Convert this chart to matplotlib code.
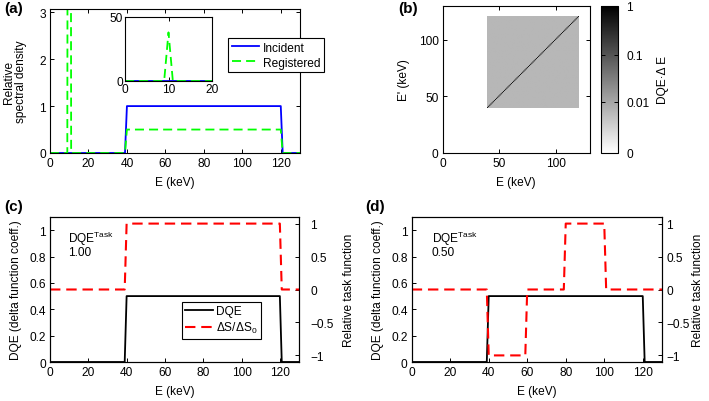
import numpy as np
import matplotlib
matplotlib.use("Agg")
import matplotlib.pyplot as plt
from matplotlib.colors import FuncNorm

plt.rcParams["font.family"] = ["Liberation Sans", "DejaVu Sans"]
plt.rcParams["mathtext.fontset"] = "custom"
plt.rcParams["mathtext.rm"] = "Liberation Sans"
plt.rcParams["mathtext.it"] = "Liberation Sans:italic"
plt.rcParams["font.size"] = 8.6
plt.rcParams["axes.linewidth"] = 0.8

# ---- data ----
# (a) spectra
inc_E = [0, 39, 40, 120, 121, 130]
inc_y = [0, 0, 1, 1, 0, 0]
reg_E = [0, 9, 10, 11, 39, 40, 120, 121, 130]
reg_y = [0, 0, 38, 0, 0, 0.5, 0.5, 0, 0]

# (b) DQE matrix: square 40..120 keV, off-diagonal level and diagonal level
map_lo, map_hi = 40, 120
map_off = 0.006
map_diag = 0.5
cbar_ticks = [0, 0.01, 0.1, 1]
cbar_labels = ["0", "0.01", "0.1", "1"]

# (c)/(d) DQE and task functions
dqe_E = [0, 39, 40, 120, 121, 130]
dqe_y = [0, 0, 0.5, 0.5, 0, 0]
task_c_E = [0, 39, 40, 120, 121, 130]
task_c_y = [0, 0, 1, 1, 0, 0]
task_d_E = [0, 39, 40, 59, 60, 79, 80, 100, 101, 130]
task_d_y = [0, 0, -1, -1, 0, 0, 1, 1, 0, 0]
dqe_task = ["1.00", "0.50"]

BLUE = "#0000ff"; GREEN = "#00ff00"; RED = "#ff0000"; INK = "black"
DASH = (5, 2.8)
FS = 8.6


def style(ax, top=True, right=True, pad=3):
    ax.tick_params(direction="in", length=3, width=0.7, top=top, right=right,
                   labelsize=FS, pad=pad)
    for sp in ax.spines.values():
        sp.set_linewidth(0.8)


W, H = 709, 402
fig = plt.figure(figsize=(W / 100, H / 100), dpi=100)


def box(x0, y0, x1, y1):
    # pixel box (top-left origin) -> figure fraction
    return [x0 / W, 1 - y1 / H, (x1 - x0) / W, (y1 - y0) / H]


# ---- (a) ----
ax = fig.add_axes(box(50, 10, 300, 154))
ax.plot(inc_E, inc_y, color=BLUE, lw=1.3, label="Incident")
ax.plot(reg_E, reg_y, color=GREEN, lw=1.3, ls="--", dashes=DASH, label="Registered")
ax.set_xlim(0, 130); ax.set_ylim(0, 3.07)
ax.set_xticks([0, 20, 40, 60, 80, 100, 120]); ax.set_yticks([0, 1, 2, 3])
ax.set_xlabel("E (keV)", labelpad=5)
ax.set_ylabel("Relative\nspectral density", labelpad=9, linespacing=1.0)
style(ax)
leg = ax.legend(loc="upper right", bbox_to_anchor=(1.12, 0.84), fancybox=False,
                edgecolor=INK, framealpha=1, handlelength=2.3, borderpad=0.3,
                labelspacing=0.25, handletextpad=0.3, fontsize=FS)
leg.get_frame().set_linewidth(0.8)

ins = fig.add_axes(box(125, 18, 212, 82))
ins.plot(inc_E, inc_y, color=BLUE, lw=1.3)
ins.plot(reg_E, reg_y, color=GREEN, lw=1.3, ls="--", dashes=DASH)
ins.set_xlim(0, 20); ins.set_ylim(0, 50)
ins.set_xticks([0, 10, 20]); ins.set_yticks([0, 50])
style(ins, pad=1.5)

# ---- (b) ----
bx = fig.add_axes(box(442.7, 7, 589.6, 154))
n = map_hi - map_lo + 1
M = np.full((n, n), map_off)
np.fill_diagonal(M, map_diag)
norm = FuncNorm((lambda x: np.log10(1 + np.asarray(x) / 0.001),
                 lambda y: (10 ** np.asarray(y) - 1) * 0.001), vmin=0, vmax=1)
im = bx.imshow(M, origin="lower", cmap="gray_r", norm=norm, aspect="auto",
               extent=(map_lo - 0.5, map_hi + 0.5, map_lo - 0.5, map_hi + 0.5))
bx.set_xlim(0, 130); bx.set_ylim(0, 130)
bx.set_xticks([0, 50, 100]); bx.set_yticks([0, 50, 100])
bx.set_xlabel("E (keV)", labelpad=5)
bx.set_ylabel("E' (keV)", labelpad=6)
style(bx)

cax = fig.add_axes(box(601, 7, 617.7, 154))
cb = fig.colorbar(im, cax=cax, ticks=cbar_ticks)
cb.ax.set_yticklabels(cbar_labels)
cb.ax.tick_params(direction="in", length=3, width=0.7, left=True, right=True,
                  labelsize=FS, pad=6)
cb.ax.minorticks_off()
cb.outline.set_linewidth(0.8)
cb.set_label("DQE\u00b7\u0394 E", labelpad=6)

# ---- (c) and (d) ----
panels = [(box(50, 218, 299, 363), task_c_E, task_c_y, dqe_task[0], 0.074, 8, 7),
          (box(411.7, 218, 662, 363), task_d_E, task_d_y, dqe_task[1], 0.08, 3, 2)]
for k, (pos, tE, ty, txt, tx, rpad, lpad) in enumerate(panels):
    a1 = fig.add_axes(pos)
    a2 = a1.twinx()
    h1, = a1.plot(dqe_E, dqe_y, color=INK, lw=1.3, label="DQE")
    h2, = a2.plot(tE, ty, color=RED, lw=1.5, ls="--", dashes=DASH,
                  label=r"$\Delta$S/$\Delta$S$_0$")
    a1.set_xlim(0, 130); a1.set_ylim(0, 1.1)
    a2.set_ylim(-1.1, 1.1)
    a1.set_xticks([0, 20, 40, 60, 80, 100, 120])
    a1.set_yticks([0, 0.2, 0.4, 0.6, 0.8, 1])
    a1.set_yticklabels(["0", "0.2", "0.4", "0.6", "0.8", "1"])
    a2.set_yticks([-1, -0.5, 0, 0.5, 1])
    a2.set_yticklabels(["\u22121", "\u22120.5", "0", "0.5", "1"])
    style(a1, top=False, right=False)
    style(a2, top=False, right=True, pad=rpad)
    a1.set_xlabel("E (keV)", labelpad=5)
    a1.set_ylabel("DQE (delta function coeff.)", labelpad=5)
    a2.set_ylabel("Relative task function", labelpad=lpad)
    a1.text(tx, 0.83, r"DQE$^{\rm Task}$", transform=a1.transAxes, va="baseline", fontsize=FS)
    a1.text(tx, 0.735, txt, transform=a1.transAxes, va="baseline", fontsize=FS)
    if k == 0:
        lg = a2.legend([h1, h2], ["DQE", r"$\Delta$S/$\Delta$S$_0$"], loc="upper left",
                       bbox_to_anchor=(0.505, 0.457), fancybox=False, edgecolor=INK,
                       framealpha=1, handlelength=2.3, borderpad=0.3,
                       labelspacing=0.25, handletextpad=0.3, fontsize=FS)
        lg.get_frame().set_linewidth(0.8)

# panel letters
for lbl, x, y in [("(a)", 4, 2), ("(b)", 398, 2), ("(c)", 4, 200), ("(d)", 365, 200)]:
    fig.text(x / W, 1 - y / H, lbl, fontsize=11, fontweight="bold", va="top", ha="left")

fig.savefig("out.png", dpi=100)
